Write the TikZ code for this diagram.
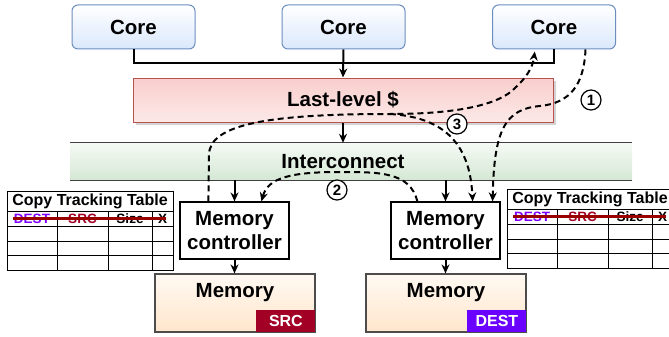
\documentclass[tikz,border=0pt]{standalone}
\usepackage{fontspec}
\setmainfont{Liberation Sans}
\usetikzlibrary{arrows.meta,calc,shadows}
\definecolor{coreB}{HTML}{6C8EBF}
\definecolor{coreF}{HTML}{DAE8FC}
\definecolor{llcB}{HTML}{B85450}
\definecolor{llcF}{HTML}{F8CECC}
\definecolor{icF}{HTML}{D5E8D4}
\definecolor{memF}{HTML}{FFE6CC}
\definecolor{srcC}{HTML}{A20025}
\definecolor{destC}{HTML}{6A00FF}
\definecolor{destT}{HTML}{7F00FF}
\definecolor{strikeC}{HTML}{990000}
\tikzset{
  ctt/.pic={
    \draw[tbl] (0,0) rectangle (166,79);
    \draw[tbl] (0,20) -- (166,20) (0,35) -- (166,35) (0,50) -- (166,50) (0,64.5) -- (166,64.5);
    \draw[tbl] (50,20) -- (50,79) (101,20) -- (101,79) (145,20) -- (145,79);
    \node[ttl] (-t) at (83,10.5) {Copy Tracking Table};
    \node[hdr, text=destT] (-d) at (25,27.5) {DEST};
    \node[hdr, text=srcC] (-s) at (75.5,27.5) {SRC};
    \node[hdr] (-z) at (123,27.5) {Size};
    \node[hdr] (-x) at (155.5,27.5) {X};
    \draw[strikeC, line width=2.2pt] (6,27.5) -- (159,27.5);
  }
}
\begin{document}
\begin{tikzpicture}[x=1pt,y=-1pt,
  >={Stealth[length=9pt,width=8pt]},
  lbl/.style={font=\fontsize{20.5}{24}\selectfont\bfseries, inner sep=0},
  corebox/.style={draw=coreB, line width=1pt, rounded corners=6pt, top color=white, bottom color=coreF,
    minimum width=123pt, minimum height=44pt, inner sep=0, font=\fontsize{20.5}{24}\selectfont\bfseries},
  llcbox/.style={draw=llcB, line width=1pt, top color=llcF, bottom color=llcF!45!white,
    minimum width=420pt, minimum height=44pt, inner sep=0, font=\fontsize{20.5}{24}\selectfont\bfseries,
    drop shadow={shadow xshift=2.5pt, shadow yshift=-2.5pt, opacity=0.35}},
  icbox/.style={draw=none, top color=icF!25!white, bottom color=icF, minimum width=562pt, minimum height=37pt, inner sep=0},
  icline/.style={line width=1.2pt, black!75},
  mcbox/.style={draw, line width=1.2pt, fill=white, minimum width=109pt, minimum height=57pt, inner sep=0,
    align=center, font=\fontsize{20.5}{24}\selectfont\bfseries},
  membox/.style={draw=black!70, line width=1.2pt, top color=memF!25!white, bottom color=memF,
    minimum width=160pt, minimum height=58pt, inner sep=0},
  badge/.style={minimum width=59pt, minimum height=22pt, inner sep=0, text=white,
    font=\fontsize{16}{16}\selectfont\bfseries},
  tbl/.style={line width=1pt, black},
  ttl/.style={inner sep=0, font=\fontsize{16}{16}\selectfont\bfseries},
  hdr/.style={inner sep=0, font=\fontsize{13.5}{14}\selectfont\bfseries},
  wire/.style={line width=2pt},
  dashline/.style={line width=2pt, dash pattern=on 6pt off 4pt},
  numc/.style={circle, draw, line width=1.2pt, fill=white, minimum size=20pt, inner sep=0,
    font=\fontsize{15}{15}\selectfont\bfseries}
]
\useasboundingbox (0,0) rectangle (669,337);

% cores
\node[corebox] (c1) at (133.5,27) {Core};
\node[corebox] (c2) at (343.5,27) {Core};
\node[corebox] (c3) at (554,27) {Core};

% last-level cache
\node[llcbox] (llc) at (343,100) {Last-level \$};

% interconnect
\node[icbox] (ic) at (351,161.5) {};
\draw[icline] (ic.north west) -- (ic.north east);
\draw[icline] (ic.south west) -- (ic.south east);
\node[lbl] (iclbl) at (343,161.5) {Interconnect};

% memory controllers
\node[mcbox] (mc1) at (234.5,230.5) {Memory\\controller};
\node[mcbox] (mc2) at (445.5,230.5) {Memory\\controller};

% memories
\node[membox] (mem1) at (235,303) {};
\node[membox] (mem2) at (446,303) {};
\node[lbl] (mem1t) at ($(mem1.north)+(0,19)$) {Memory};
\node[lbl] (mem2t) at ($(mem2.north)+(0,19)$) {Memory};
\node[badge, fill=srcC, anchor=south east] (src) at (mem1.south east) {SRC};
\node[badge, fill=destC, anchor=south east] (dest) at (mem2.south east) {DEST};

% tables
\pic (tl) at (7,191) {ctt};
\pic (tr) at (507,189) {ctt};

% solid connectors
\draw[wire] (c1.south) -- ++(0,14) -| (c3.south);
\draw[wire,->] (c2.south) -- (llc.north);
\draw[wire,->] (llc.south) -- (llc.south |- ic.north);
\draw[wire,->] (mc1.north |- ic.south) -- (mc1.north);
\draw[wire,->] (mc2.north |- ic.south) -- (mc2.north);
\draw[wire,->] (mc1.south) -- (mc1.south |- mem1.north);
\draw[wire,->] (mc2.south) -- (mc2.south |- mem2.north);

% dashed paths
\coordinate (p1s) at ($(c3.south east)+(-30.5,0)$);
\coordinate (p1e) at ($(mc2.north east)+(-8,0)$);
\coordinate (pas) at ($(mc1.north west)+(29,0)$);
\coordinate (pae) at ($(c3.south)+(-19,0)$);
\coordinate (fork) at (390,114);
\coordinate (p3e) at ($(mc2.north east)+(-28,0)$);
\coordinate (p2s) at ($(mc2.north west)+(27,0)$);
\coordinate (p2e) at ($(mc1.north west)+(82,0)$);

\draw[dashline,->] (p1s) .. controls (584,85) and (570,103) .. (540,106)
  .. controls (505,109) and (494,130) .. (p1e);
\draw[dashline,->,shorten >=2pt] (pas) -- (209,155) .. controls (209,124) and (270,114) .. (fork)
  .. controls (460,114) and (500,104) .. (515,88) .. controls (528,76) and (533,66) .. (pae);
\draw[dashline,->] (fork) .. controls (440,117) and (470,140) .. (p3e);
\draw[dashline,->] (p2s) .. controls (410,172) and (380,172) .. (340,172)
  .. controls (290,172) and (268,178) .. (p2e);

% step markers
\node[numc] (n1) at (591,100) {1};
\node[numc] (n2) at (337,190) {2};
\node[numc] (n3) at (457,124) {3};
\end{tikzpicture}
\end{document}
